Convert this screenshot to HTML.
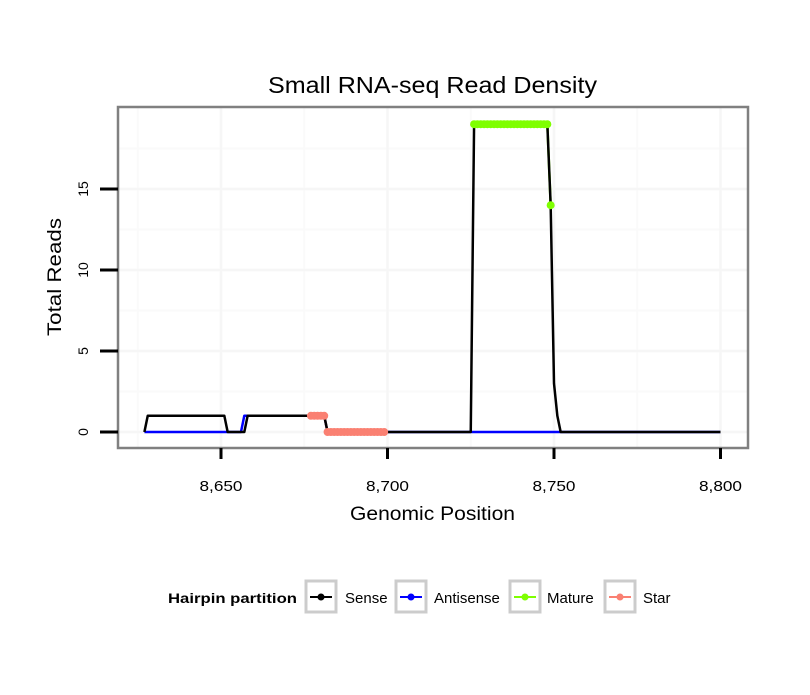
<!DOCTYPE html>
<html><head><meta charset="utf-8"><style>
body{margin:0;background:#fff;}
svg text{font-family:"Liberation Sans",sans-serif;}
</style></head><body>
<svg id="chart" width="810" height="690" xmlns="http://www.w3.org/2000/svg">
<rect width="810" height="690" fill="#fff"/>
<text x="268" y="93" font-size="23" textLength="329" lengthAdjust="spacingAndGlyphs">Small RNA-seq Read Density</text>
<g id="grid"></g>
<g id="series"></g>
<rect x="118" y="107" width="630" height="341" fill="none" stroke="#808080" stroke-width="2.5"/>
<g id="axes"></g>
<text x="350" y="520" font-size="19" textLength="165" lengthAdjust="spacingAndGlyphs">Genomic Position</text>
<text transform="translate(61,336) rotate(-90)" font-size="19" textLength="118" lengthAdjust="spacingAndGlyphs">Total Reads</text>
<g>
<text x="168" y="603" font-size="14" font-weight="bold" textLength="129" lengthAdjust="spacingAndGlyphs">Hairpin partition</text>
<g><rect x="306" y="581" width="30" height="31" fill="#fff" stroke="#cccccc" stroke-width="3"/><line x1="310" y1="597" x2="332" y2="597" stroke="#000" stroke-width="2"/><circle cx="321" cy="597" r="3.5" fill="#000"/><text x="345" y="603" font-size="15">Sense</text></g>
<g><rect x="396" y="581" width="30" height="31" fill="#fff" stroke="#cccccc" stroke-width="3"/><line x1="400" y1="597" x2="422" y2="597" stroke="#0000ff" stroke-width="2"/><circle cx="411" cy="597" r="3.5" fill="#0000ff"/><text x="434" y="603" font-size="15">Antisense</text></g>
<g><rect x="510" y="581" width="30" height="31" fill="#fff" stroke="#cccccc" stroke-width="3"/><line x1="514" y1="597" x2="536" y2="597" stroke="#7fff00" stroke-width="2"/><circle cx="525" cy="597" r="3.5" fill="#7fff00"/><text x="547" y="603" font-size="15">Mature</text></g>
<g><rect x="605" y="581" width="30" height="31" fill="#fff" stroke="#cccccc" stroke-width="3"/><line x1="609" y1="597" x2="631" y2="597" stroke="#fa8072" stroke-width="2"/><circle cx="620" cy="597" r="3.5" fill="#fa8072"/><text x="643" y="603" font-size="15">Star</text></g>
</g>
</svg>
<script>
const xTicks = [8650, 8700, 8750, 8800];
const xTickLabels = ["8,650", "8,700", "8,750", "8,800"];
const xMinor = [8625, 8675, 8725, 8775];
const yTicks = [0, 5, 10, 15];
const yTickLabels = ["0", "5", "10", "15"];
const yMinor = [2.5, 7.5, 12.5, 17.5];
const senseX = [8627, 8628, 8651, 8652, 8657, 8658, 8681, 8682, 8725, 8726, 8748, 8749, 8750, 8751, 8752, 8800];
const senseY = [0, 1, 1, 0, 0, 1, 1, 0, 0, 19, 19, 14, 3, 1, 0, 0];
const antiX = [8627, 8656, 8657, 8681, 8682, 8800];
const antiY = [0, 0, 1, 1, 0, 0];
const matureX = [8726,8727,8728,8729,8730,8731,8732,8733,8734,8735,8736,8737,8738,8739,8740,8741,8742,8743,8744,8745,8746,8747,8748,8749];
const matureY = [19,19,19,19,19,19,19,19,19,19,19,19,19,19,19,19,19,19,19,19,19,19,19,14];
const starX = [8677,8678,8679,8680,8681,8682,8683,8684,8685,8686,8687,8688,8689,8690,8691,8692,8693,8694,8695,8696,8697,8698,8699];
const starY = [1,1,1,1,1,0,0,0,0,0,0,0,0,0,0,0,0,0,0,0,0,0,0];

const NS = "http://www.w3.org/2000/svg";
function sx(v){ return 221 + (v - 8650) * 3.33; }
function sy(v){ return 432 - v * 16.2; }
function mk(tag, attrs, parent){ const e = document.createElementNS(NS, tag); for (const k in attrs) e.setAttribute(k, attrs[k]); parent.appendChild(e); return e; }

const grid = document.getElementById('grid');
const axes = document.getElementById('axes');
const series = document.getElementById('series');
xMinor.forEach(v => { const l = mk('line', {x1: sx(v), x2: sx(v), y1: 108, y2: 447, stroke: '#fafafa', 'stroke-width': 2}, grid);
  
   });
yMinor.forEach(v => { const l = mk('line', {x1: 119, x2: 747, y1: sy(v), y2: sy(v), stroke: '#fafafa', 'stroke-width': 2}, grid);
  
   });
xTicks.forEach((v, i) => {
  const g = mk('line', {x1: sx(v), x2: sx(v), y1: 108, y2: 447, stroke: '#f6f6f6', 'stroke-width': 2.5}, grid);
  
  
  const t = mk('line', {x1: sx(v), x2: sx(v), y1: 448, y2: 459, stroke: '#000', 'stroke-width': 3}, axes);
  
  
  const tx = mk('text', {x: sx(v), y: 491, 'font-size': 15, 'text-anchor': 'middle', fill: '#000', textLength: 43, lengthAdjust: 'spacingAndGlyphs'}, axes);
  tx.textContent = xTickLabels[i];
  
  
});
yTicks.forEach((v, i) => {
  const g = mk('line', {x1: 119, x2: 747, y1: sy(v), y2: sy(v), stroke: '#f6f6f6', 'stroke-width': 2.5}, grid);
  
  
  const t = mk('line', {x1: 100, x2: 118, y1: sy(v), y2: sy(v), stroke: '#000', 'stroke-width': 3}, axes);
  
  
  const tx = mk('text', {transform: 'translate(88,' + sy(v) + ') rotate(-90)', 'font-size': 14, 'text-anchor': 'middle', fill: '#000'}, axes);
  tx.textContent = yTickLabels[i];
  
  
});
function drawLine(xs, ys, color, name){
  const pts = xs.map((x, i) => sx(x) + ',' + sy(ys[i])).join(' ');
  const p = mk('polyline', {points: pts, fill: 'none', stroke: color, 'stroke-width': 2.5, 'stroke-linejoin': 'round'}, series);
  
  
}
function drawPoints(xs, ys, color, name){
  xs.forEach((x, i) => {
    const c = mk('circle', {cx: sx(x), cy: sy(ys[i]), r: 4, fill: color}, series);
    
    
  });
}
drawLine(antiX, antiY, '#0000ff', 'antisense-line');
drawLine(matureX, matureY, '#7fff00', 'mature-line');
drawLine(starX, starY, '#fa8072', 'star-line');
drawLine(senseX, senseY, '#000000', 'sense-line');
drawPoints(matureX, matureY, '#7fff00', 'mature-point');
drawPoints(starX, starY, '#fa8072', 'star-point');
</script>
</body></html>
